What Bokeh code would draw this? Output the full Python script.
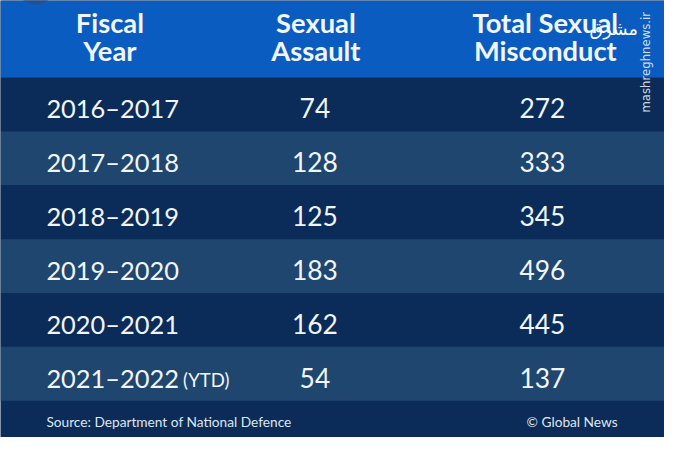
from bokeh.plotting import figure
from bokeh.models import Range1d, ColumnDataSource
from bokeh.core.properties import value
from bokeh.embed import file_html
from bokeh.resources import INLINE
import math

# ---- data ----
headers_col1 = ["Fiscal", "Year"]
headers_col2 = ["Sexual", "Assault"]
headers_col3 = ["Total Sexual", "Misconduct"]
years = ["2016–2017", "2017–2018", "2018–2019", "2019–2020", "2020–2021", "2021–2022"]
year_notes = ["", "", "", "", "", "(YTD)"]
sexual_assault = [74, 128, 125, 183, 162, 54]
total_misconduct = [272, 333, 345, 496, 445, 137]
source_text = "Source: Department of National Defence"
credit_text = "© Global News"
watermark = "mashreghnews.ir"

# ---- layout ----
W, H = 664, 437
sx = W / 680.0
FONT = "Lato"
TXT = "#f2f6fa"
HEADER_BG = "#0a5cc0"
DARK = "#0b2c59"
LIGHT = "#1f466f"

p = figure(width=W, height=H, output_backend="svg", toolbar_location=None,
           x_range=Range1d(0, 680), y_range=Range1d(453, 0), min_border=0,
           background_fill_color=DARK, border_fill_color=DARK)
p.axis.visible = False
p.grid.visible = False
p.outline_line_color = None

# header band
p.quad(left=[0], right=[680], top=[0], bottom=[80], fill_color=HEADER_BG, line_color=None)
# partial circle top-left
p.ellipse(x=[36], y=[-14], width=40, height=36, fill_color="#244f8c", line_color=None)

# rows
n = len(years)
row_h = 55.8
tops = [80 + i * row_h for i in range(n)]
bottoms = [t + row_h for t in tops]
colors = [DARK if i % 2 == 0 else LIGHT for i in range(n)]
p.quad(left=[0] * n, right=[680] * n, top=tops, bottom=bottoms, fill_color=colors, line_color=None)

mids = [(t + b) / 2 + 4 for t, b in zip(tops, bottoms)]

def fs(px):
    return "%.1fpx" % (px * sx)

# header text
hy = [23, 52]
for xc, lines in ((112, headers_col1), (323, headers_col2), (558, headers_col3)):
    p.text(x=[xc] * 2, y=hy, text=lines, text_align="center", text_baseline="middle",
           text_color=TXT, text_font=value(FONT), text_font_size=fs(28),
           text_font_style="bold")

# body text
src = ColumnDataSource(dict(y=mids, year=years, sa=[str(v) for v in sexual_assault],
                            tm=[str(v) for v in total_misconduct]))
p.text(x=47, y="y", text="year", source=src, text_align="left", text_baseline="middle",
       text_color=TXT, text_font=value(FONT), text_font_size=fs(26))
p.text(x=322, y="y", text="sa", source=src, text_align="center", text_baseline="middle",
       text_color=TXT, text_font=value(FONT), text_font_size=fs(27))
p.text(x=555, y="y", text="tm", source=src, text_align="center", text_baseline="middle",
       text_color=TXT, text_font=value(FONT), text_font_size=fs(27))
# (YTD) note
p.text(x=[187], y=[mids[-1] + 3], text=[year_notes[-1]], text_align="left", text_baseline="middle",
       text_color=TXT, text_font=value(FONT), text_font_size=fs(19))

# footer
p.text(x=[47], y=[436], text=[source_text], text_align="left", text_baseline="middle",
       text_color="#dfe6ee", text_font=value(FONT), text_font_size=fs(14))
p.text(x=[632], y=[436], text=[credit_text], text_align="right", text_baseline="middle",
       text_color="#dfe6ee", text_font=value(FONT), text_font_size=fs(14))

# watermark
p.text(x=[661], y=[64], text=[watermark], angle=math.pi / 2, text_align="center",
       text_baseline="middle", text_color="#e8eef5", text_alpha=0.9,
       text_font=value("DejaVu Sans"), text_font_size=fs(12))
p.text(x=[628], y=[30], text=["مشرق"], text_align="center", text_baseline="middle",
       text_color="#ffffff", text_font=value("DejaVu Sans"), text_font_size=fs(18))

open("out.html", "w").write(file_html(p, INLINE))
